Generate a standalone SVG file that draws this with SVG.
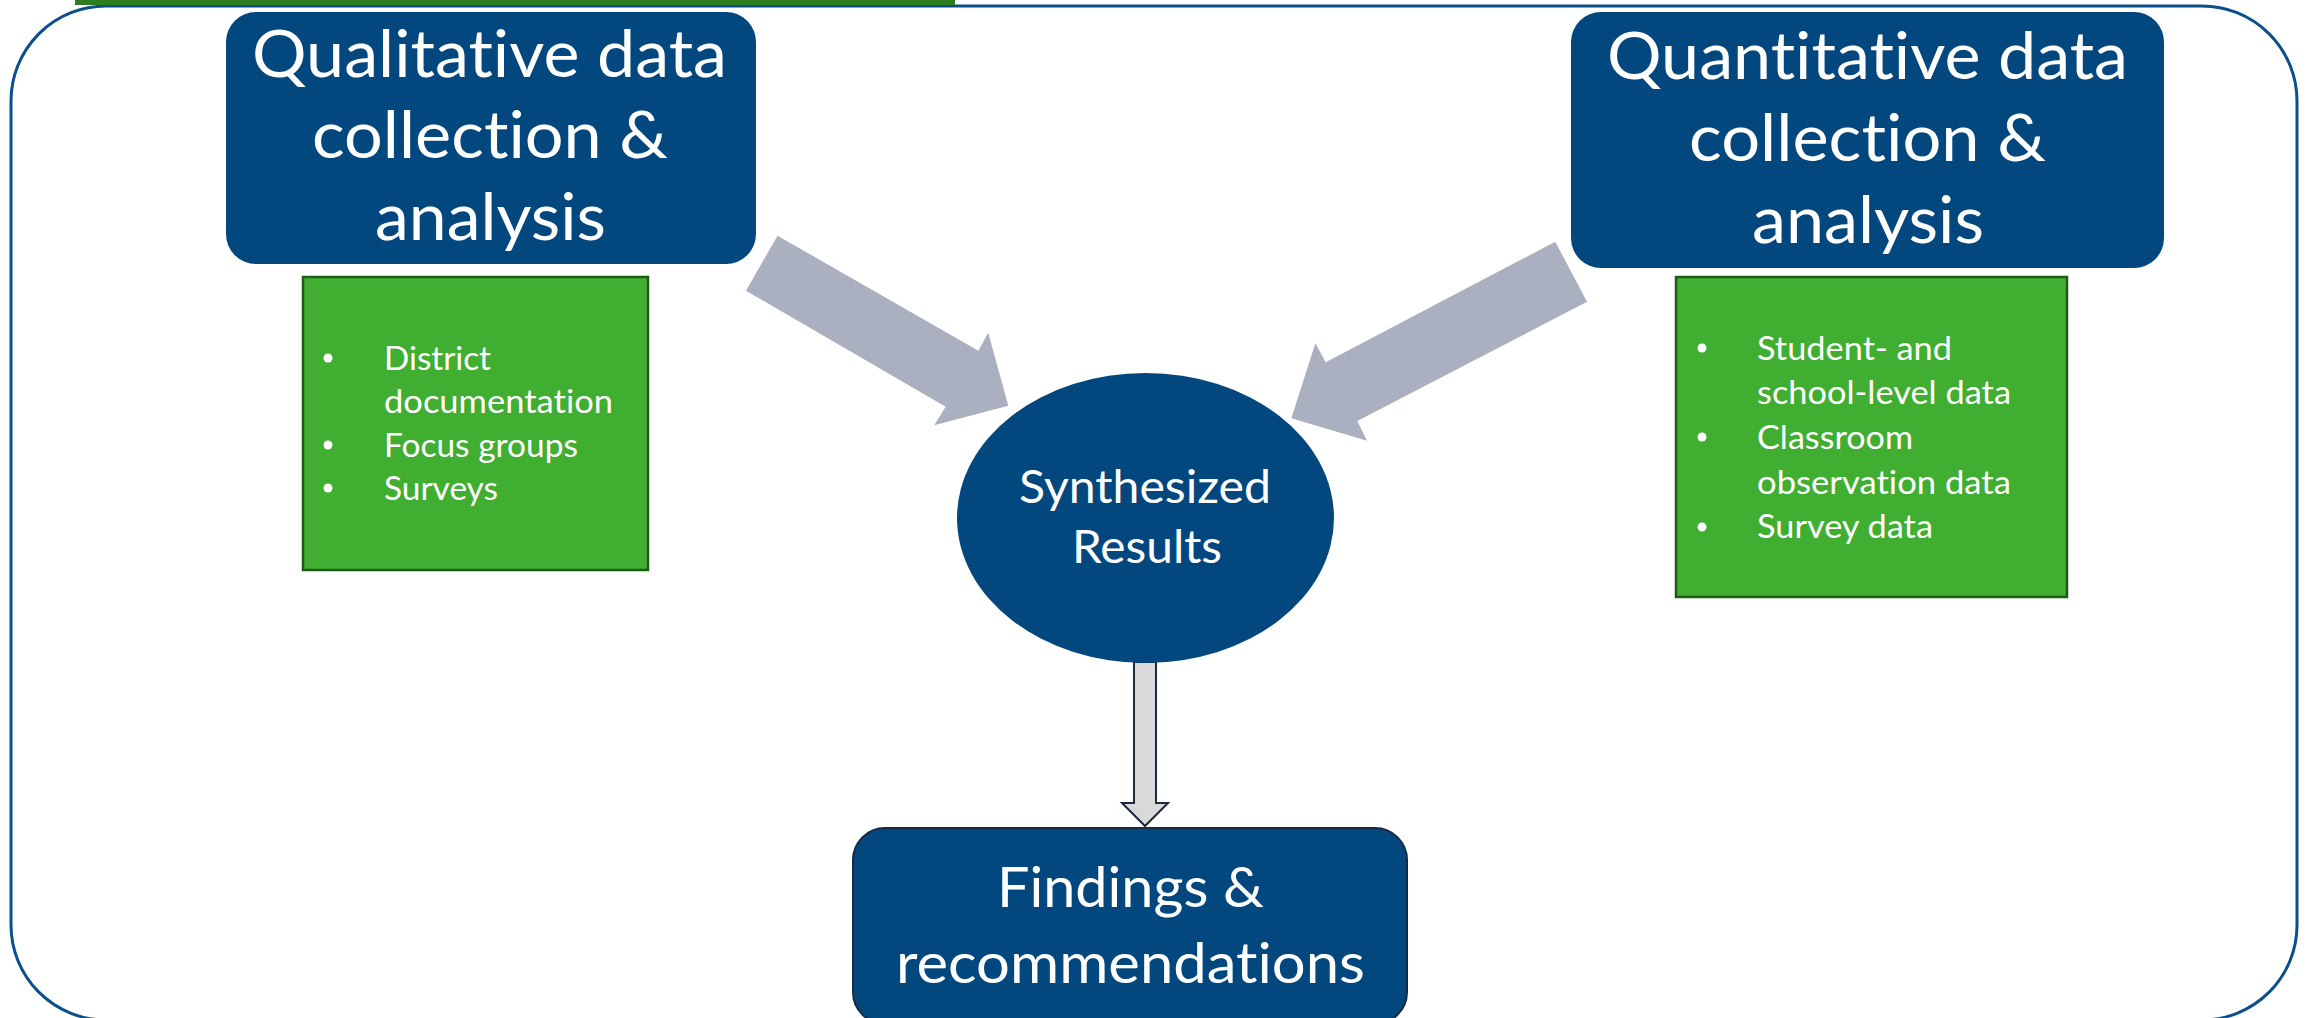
<svg xmlns="http://www.w3.org/2000/svg" width="2312" height="1018" viewBox="0 0 2312 1018">
<style>
.box{fill:#03477f;}
.t{font-family:Lato,"Open Sans","Liberation Sans",sans-serif;fill:#ffffff;font-variant-ligatures:none;font-feature-settings:"liga" 0,"clig" 0;}
.big{font-size:66px;}
.mid{font-size:47px;}
.fnd{font-size:57px;}
.sm{font-size:32px;}
.green{fill:#3fae31;stroke:#1f5d16;stroke-width:2.5;}
.bul{fill:#ffffff;}
.fat{fill:#abb0c0;}
</style>
<rect x="0" y="0" width="2312" height="1018" fill="#ffffff"/>
<g id="frame">
<rect x="11" y="6" width="2286" height="1014" rx="95" ry="95" fill="none" stroke="#0b4f8c" stroke-width="3"/>
<rect x="75" y="0" width="880" height="5" fill="#2e7d1f"/>
</g>
<g id="connectors">
<polygon class="fat" points="777.5,235.7 746,290.7 945.7,406.7 934.2,425.3 1008.3,405.7 988.2,332.7 978.4,350.7"/>
<polygon class="fat" points="1555.3,241.7 1587,301.7 1357.3,421 1367,440.7 1291.3,418.3 1315.4,343.3 1325.7,362.3"/>
<polygon points="1134,662 1156,662 1156,803 1168,803 1145,826 1122,803 1134,803" fill="#d9d9d9" stroke="#1a2a40" stroke-width="2"/>
</g>
<g id="qualitative">
<rect class="box" x="226" y="12" width="530" height="252" rx="30"/>
<text class="t big" x="252" y="77" textLength="475" lengthAdjust="spacingAndGlyphs">Qualitative data</text>
<text class="t big" x="312" y="158" textLength="356" lengthAdjust="spacingAndGlyphs">collection &amp;</text>
<text class="t big" x="375" y="240" textLength="231" lengthAdjust="spacingAndGlyphs">analysis</text>
</g>
<g id="quantitative">
<rect class="box" x="1571" y="12" width="593" height="256" rx="30"/>
<text class="t big" x="1607" y="79" textLength="521" lengthAdjust="spacingAndGlyphs">Quantitative data</text>
<text class="t big" x="1689" y="161" textLength="357" lengthAdjust="spacingAndGlyphs">collection &amp;</text>
<text class="t big" x="1752" y="243" textLength="232" lengthAdjust="spacingAndGlyphs">analysis</text>
</g>
<g id="qual-list">
<rect class="green" x="303" y="277" width="345" height="293"/>
<circle class="bul" cx="328" cy="358" r="4.5"/>
<circle class="bul" cx="328" cy="445" r="4.5"/>
<circle class="bul" cx="328" cy="488" r="4.5"/>
<text class="t sm" x="384" y="370" textLength="107" lengthAdjust="spacingAndGlyphs">District</text>
<text class="t sm" x="384" y="413" textLength="229" lengthAdjust="spacingAndGlyphs">documentation</text>
<text class="t sm" x="384" y="457" textLength="194" lengthAdjust="spacingAndGlyphs">Focus groups</text>
<text class="t sm" x="384" y="500" textLength="114" lengthAdjust="spacingAndGlyphs">Surveys</text>
</g>
<g id="quant-list">
<rect class="green" x="1676" y="277" width="391" height="320"/>
<circle class="bul" cx="1702" cy="348" r="4.5"/>
<circle class="bul" cx="1702" cy="437" r="4.5"/>
<circle class="bul" cx="1702" cy="527" r="4.5"/>
<text class="t sm" x="1757" y="360" textLength="195" lengthAdjust="spacingAndGlyphs">Student- and</text>
<text class="t sm" x="1757" y="404" textLength="254" lengthAdjust="spacingAndGlyphs">school-level data</text>
<text class="t sm" x="1757" y="449" textLength="156" lengthAdjust="spacingAndGlyphs">Classroom</text>
<text class="t sm" x="1757" y="494" textLength="254" lengthAdjust="spacingAndGlyphs">observation data</text>
<text class="t sm" x="1757" y="538" textLength="176" lengthAdjust="spacingAndGlyphs">Survey data</text>
</g>
<g id="synthesized">
<ellipse class="box" cx="1145.5" cy="518" rx="188.5" ry="145"/>
<text class="t mid" x="1019" y="503" textLength="252" lengthAdjust="spacingAndGlyphs">Synthesized</text>
<text class="t mid" x="1072" y="563" textLength="150" lengthAdjust="spacingAndGlyphs">Results</text>
</g>
<g id="findings">
<rect class="box" x="853" y="828" width="554" height="196" rx="32" stroke="#1a2a40" stroke-width="2"/>
<text class="t fnd" x="997" y="907" textLength="267" lengthAdjust="spacingAndGlyphs">Findings &amp;</text>
<text class="t fnd" x="896" y="983" textLength="469" lengthAdjust="spacingAndGlyphs">recommendations</text>
</g>
</svg>
